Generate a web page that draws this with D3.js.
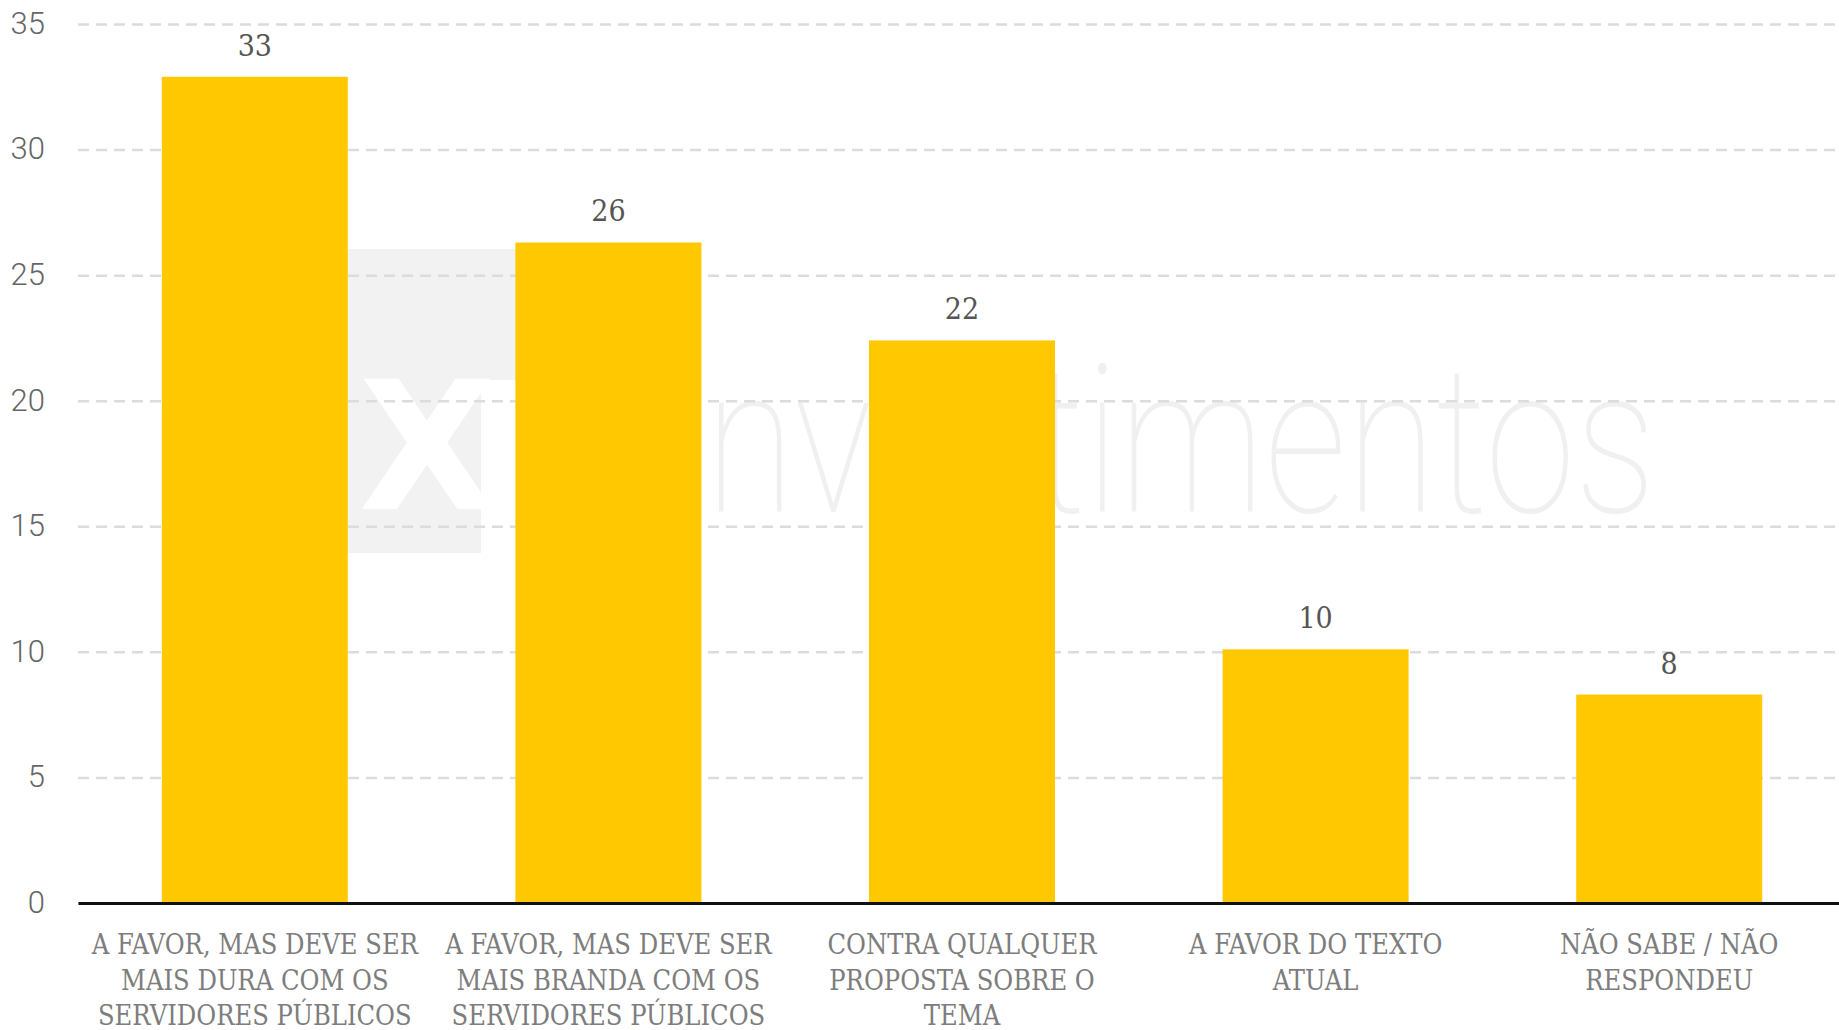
<!DOCTYPE html>
<html>
<head>
<meta charset="utf-8">
<script src="https://cdn.jsdelivr.net/npm/d3@7"></script>
<style>
  html, body { margin: 0; padding: 0; background: #fff; }
  .grid line { stroke: #dcdcdc; stroke-width: 2.5; stroke-dasharray: 11 7; }
  .grid text { font-family: Roboto, sans-serif; font-weight: 300; font-size: 31px; fill: #666; }
  .xaxis text { font-family: "DejaVu Serif Condensed", "DejaVu Serif", serif; font-size: 27px; fill: #7d7d7d; }
  .value { font-family: "DejaVu Serif Condensed", "DejaVu Serif", serif; font-size: 30px; fill: #555; }
</style>
</head>
<body>
<div class="chart"></div>
<script>
// chart data
var categories = [
    ["A FAVOR, MAS DEVE SER", "MAIS DURA COM OS", "SERVIDORES PÚBLICOS"],
    ["A FAVOR, MAS DEVE SER", "MAIS BRANDA COM OS", "SERVIDORES PÚBLICOS"],
    ["CONTRA QUALQUER", "PROPOSTA SOBRE O", "TEMA"],
    ["A FAVOR DO TEXTO", "ATUAL"],
    ["NÃO SABE / NÃO", "RESPONDEU"]
];
var values = [32.9, 26.3, 22.4, 10.1, 8.3];
var valueLabels = ["33", "26", "22", "10", "8"];
var yTicks = [0, 5, 10, 15, 20, 25, 30, 35];

var width = 1839,
    height = 1030,
    marginLeft = 78,
    plotTop = 24,
    plotBottom = 903;

var svg = d3.select(".chart")
  .append("svg")
    .attr("width", width)
    .attr("height", height)
    .style("display", "block");

// scales
var xScale = d3.scaleBand()
    .domain(d3.range(categories.length))
    .range([marginLeft, 1846])
    .paddingInner(0.474)
    .paddingOuter(0.237);

var yScale = d3.scaleLinear()
    .domain([0, 35])
    .range([plotBottom, plotTop]);

// watermark (xp investimentos), sits behind everything
var wm = svg.append("g").attr("class", "watermark");
wm.append("path")
    .attr("d", "M330,249H520V380H481V553H330Z")
    .attr("fill", "#f2f2f2");
wm.append("text")
    .attr("x", 427)
    .attr("y", 509)
    .attr("text-anchor", "middle")
    .style("font-family", "'DejaVu Sans', sans-serif")
    .style("font-weight", "bold")
    .style("font-size", "178px")
    .attr("fill", "#fff")
    .text("X");
wm.append("text")
    .attr("x", 672)
    .attr("y", 512)
    .attr("textLength", 984)
    .attr("lengthAdjust", "spacingAndGlyphs")
    .style("font-family", "Roboto, sans-serif")
    .style("font-weight", 100)
    .style("font-size", "206px")
    .attr("fill", "#f0f0f0")
    .text("investimentos");

// y gridlines + tick labels
var yAxis = d3.axisLeft(yScale)
    .tickValues(yTicks)
    .tickSize(-(width - marginLeft))
    .tickPadding(33);

var grid = svg.append("g")
    .attr("class", "grid")
    .attr("transform", "translate(" + marginLeft + ",0)")
    .call(yAxis);
grid.select(".domain").remove();
grid.selectAll(".tick text").attr("dy", "0.3em");

// bars
svg.selectAll(".bar")
    .data(values)
  .enter().append("rect")
    .attr("class", "bar")
    .attr("x", function(d, i) { return xScale(i); })
    .attr("y", function(d) { return yScale(d); })
    .attr("width", xScale.bandwidth())
    .attr("height", function(d) { return yScale(0) - yScale(d); })
    .attr("fill", "#ffc800");

// value labels
svg.selectAll(".value")
    .data(values)
  .enter().append("text")
    .attr("class", "value")
    .attr("x", function(d, i) { return xScale(i) + xScale.bandwidth() / 2; })
    .attr("y", function(d) { return yScale(d) - 21; })
    .attr("text-anchor", "middle")
    .text(function(d, i) { return valueLabels[i]; });

// x axis with wrapped labels
var xAxis = d3.axisBottom(xScale)
    .tickSize(0)
    .tickPadding(0)
    .tickFormat("");

var xg = svg.append("g")
    .attr("class", "xaxis")
    .attr("transform", "translate(0," + plotBottom + ")")
    .call(xAxis);
xg.select(".domain")
    .attr("stroke", "#111")
    .attr("stroke-width", 3);

xg.selectAll(".tick text")
    .attr("y", 51)
    .attr("dy", 0)
    .each(function(d) {
        var t = d3.select(this);
        categories[d].forEach(function(line, j) {
            t.append("tspan")
                .attr("x", 0)
                .attr("dy", j === 0 ? 0 : 35.5)
                .text(line);
        });
    });
</script>
</body>
</html>
